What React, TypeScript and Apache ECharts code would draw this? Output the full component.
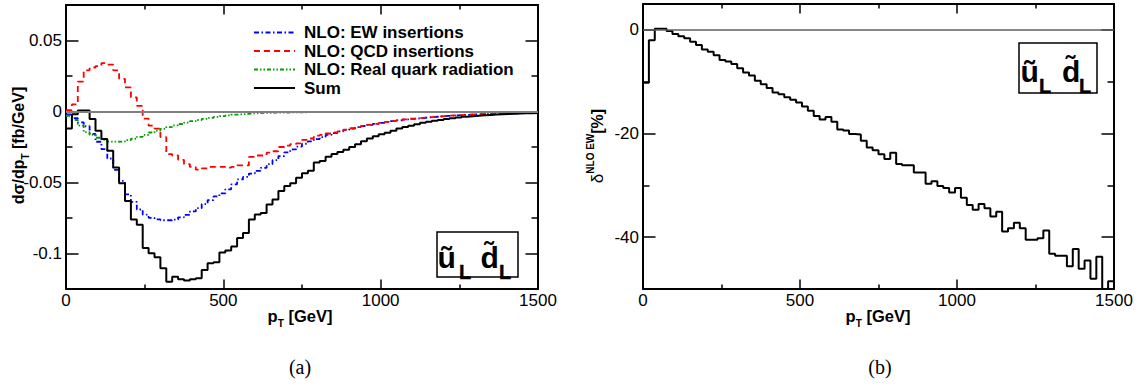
import React, { useEffect, useRef } from "react";
import * as echarts from "echarts";

// ---------- data ----------
const BIN_WIDTH = 18.75; // GeV, 80 bins over 0..1500
const PT_MIN = 0;
const PT_MAX = 1500;
const PT_INTERVAL = 500;

const legendNames = [
  "NLO: EW insertions",
  "NLO: QCD insertions",
  "NLO: Real quark radiation",
  "Sum",
];

const leftYMajor = [-0.1, -0.05, 0, 0.05];
const leftYMinor = [-0.075, -0.025, 0.025];
const rightYMajor = [-40, -20, 0];
const rightYMinor = [-50, -30, -10];

// (a) d sigma / d pT [fb/GeV]
const ewInsertions = [
  -0.0021, -0.0047, -0.0076, -0.0104, -0.0158, -0.0213, -0.0265, -0.0331, -0.0411, -0.0489,
  -0.0584, -0.0636, -0.069, -0.0726, -0.0749, -0.0759, -0.0766, -0.0766, -0.0761, -0.0745,
  -0.0728, -0.0704, -0.0681, -0.0652, -0.0624, -0.0598, -0.0577, -0.0548, -0.0513, -0.0478,
  -0.0461, -0.0437, -0.0418, -0.0397, -0.0371, -0.0343, -0.0314, -0.0288, -0.0267, -0.0248,
  -0.0227, -0.021, -0.0194, -0.018, -0.0165, -0.0152, -0.014, -0.013, -0.012, -0.011,
  -0.0102, -0.0094, -0.0087, -0.008, -0.0074, -0.0068, -0.0062, -0.0057, -0.0052, -0.0048,
  -0.0044, -0.004, -0.0037, -0.0034, -0.0031, -0.0028, -0.0026, -0.0024, -0.0022, -0.002,
  -0.0019, -0.0017, -0.0016, -0.0015, -0.0014, -0.0013, -0.0012, -0.0011, -0.001, -0.001,
];

const qcdInsertions = [
  0.001, 0.005, 0.021, 0.029, 0.031, 0.032, 0.034, 0.033, 0.029, 0.023,
  0.017, 0.01, 0.004, -0.005, -0.01, -0.012, -0.018, -0.03, -0.031, -0.034,
  -0.037, -0.039, -0.041, -0.04, -0.039, -0.039, -0.039, -0.0395, -0.039, -0.038,
  -0.038, -0.032, -0.031, -0.031, -0.029, -0.028, -0.025, -0.024, -0.023, -0.0225,
  -0.02, -0.019, -0.017, -0.0165, -0.0155, -0.0148, -0.014, -0.0128, -0.0118, -0.011,
  -0.0102, -0.0094, -0.0087, -0.008, -0.0073, -0.0067, -0.0061, -0.0056, -0.0051, -0.0047,
  -0.0043, -0.0039, -0.0036, -0.0033, -0.003, -0.0027, -0.0025, -0.0023, -0.0021, -0.0019,
  -0.0018, -0.0016, -0.0015, -0.0014, -0.0013, -0.0012, -0.0011, -0.001, -0.001, -0.0009,
];

const realQuarkRadiation = [
  -0.003, -0.006, -0.01, -0.0145, -0.0165, -0.0185, -0.02, -0.0212, -0.0213, -0.021,
  -0.0202, -0.0192, -0.0178, -0.0165, -0.0148, -0.0135, -0.0122, -0.011, -0.0098, -0.0088,
  -0.0078, -0.0068, -0.006, -0.0052, -0.0045, -0.0038, -0.0032, -0.0027, -0.0022, -0.0019,
  -0.0016, -0.0013, -0.0011, -0.001, -0.0009, -0.0008, -0.0007, -0.0007, -0.0006, -0.0006,
  -0.0005, -0.0005, -0.0005, -0.0005, -0.0005, -0.0005, -0.0005, -0.0005, -0.0005, -0.0005,
  -0.0004, -0.0004, -0.0004, -0.0004, -0.0004, -0.0004, -0.0004, -0.0004, -0.0004, -0.0004,
  -0.0003, -0.0003, -0.0003, -0.0003, -0.0003, -0.0003, -0.0003, -0.0003, -0.0003, -0.0003,
  -0.0003, -0.0003, -0.0003, -0.0003, -0.0003, -0.0003, -0.0003, -0.0003, -0.0003, -0.0003,
];

const sumNLO = [
  -0.012, -0.002, 0.0007, 0.0007, -0.0052, -0.0135, -0.0194, -0.0277, -0.0395, -0.0506,
  -0.0631, -0.0761, -0.0797, -0.0962, -0.0998, -0.1026, -0.1104, -0.1199, -0.1163, -0.1182,
  -0.1191, -0.1182, -0.1175, -0.1116, -0.1069, -0.1061, -0.0993, -0.0979, -0.095, -0.0891,
  -0.0856, -0.0761, -0.0726, -0.0714, -0.0655, -0.0619, -0.056, -0.0525, -0.0506, -0.0466,
  -0.0435, -0.0418, -0.0359, -0.0348, -0.0319, -0.03, -0.0285, -0.027, -0.025, -0.023,
  -0.021, -0.019, -0.0175, -0.016, -0.015, -0.0135, -0.012, -0.011, -0.01, -0.009,
  -0.008, -0.0072, -0.0065, -0.006, -0.0053, -0.0047, -0.0042, -0.0037, -0.0033, -0.003,
  -0.0027, -0.0024, -0.0021, -0.0019, -0.0017, -0.0015, -0.0014, -0.0013, -0.0012, -0.0011,
];

// (b) relative NLO EW correction [%]
const deltaNLOEW = [
  -10.2, -2.0, 0.2, 0.2, -0.2, -0.8, -1.2, -1.6, -2.3, -2.9,
  -3.8, -4.2, -4.9, -5.8, -6.1, -6.6, -7.4, -8.2, -8.8, -9.8,
  -10.5, -11.2, -12.1, -12.4, -13.0, -13.5, -14.0, -14.8, -15.6, -16.6,
  -17.3, -16.8, -17.7, -19.2, -19.4, -20.1, -20.2, -21.4, -22.7, -23.2,
  -24.0, -24.9, -23.7, -25.9, -26.1, -26.1, -27.5, -27.5, -29.7, -29.2,
  -30.1, -30.5, -31.4, -30.5, -32.4, -33.8, -34.7, -33.6, -34.4, -36.0,
  -35.1, -38.9, -38.3, -37.2, -38.3, -40.5, -40.5, -40.2, -38.7, -43.2,
  -43.6, -43.6, -45.6, -42.3, -46.1, -44.5, -48.0, -43.8, -51.0, -48.5,
];

// ---------- helpers ----------
const FONT = "'Liberation Sans', Arial, Helvetica, sans-serif";

function histogram(values: number[]) {
  const pts: number[][] = values.map((v, k) => [k * BIN_WIDTH, v]);
  pts.push([values.length * BIN_WIDTH, values[values.length - 1]]);
  return pts;
}

const frameLine = { color: "#000", width: 2 };
const tickLine = { color: "#000", width: 1.5 };
const plainNumber = (v: number) => String(v);

function makeXAxes(gridIndex: number) {
  const base = {
    type: "value",
    gridIndex,
    min: PT_MIN,
    max: PT_MAX,
    interval: PT_INTERVAL,
    axisLine: { show: true, onZero: false, lineStyle: frameLine },
    axisTick: { show: true, inside: true, length: 9.5, lineStyle: tickLine },
    minorTick: { show: true, splitNumber: 2, length: 4.5, lineStyle: tickLine },
    splitLine: { show: false },
    minorSplitLine: { show: false },
  };
  return [
    {
      ...base,
      position: "bottom",
      axisLabel: {
        show: true,
        margin: 3,
        color: "#000",
        fontSize: 17,
        fontFamily: FONT,
        formatter: plainNumber,
      },
    },
    { ...base, position: "top", axisLabel: { show: false } },
  ];
}

function makeYAxes(gridIndex: number, min: number, max: number, major: number[], minor: number[]) {
  const out: any[] = [];
  for (const position of ["left", "right"]) {
    out.push({
      type: "value",
      gridIndex,
      position,
      min,
      max,
      splitLine: { show: false },
      axisLine: { show: true, onZero: false, lineStyle: frameLine },
      axisTick: { show: true, inside: true, length: 12.5, lineStyle: tickLine, customValues: major },
      axisLabel: {
        show: position === "left",
        customValues: major,
        margin: 4,
        color: "#000",
        fontSize: 17,
        fontFamily: FONT,
        formatter: plainNumber,
      },
    });
    out.push({
      type: "value",
      gridIndex,
      position,
      min,
      max,
      splitLine: { show: false },
      axisLine: { show: false, onZero: false },
      axisTick: { show: true, inside: true, length: 6.5, lineStyle: tickLine, customValues: minor },
      axisLabel: { show: false, customValues: minor },
    });
  }
  return out;
}

function stepSeries(
  name: string,
  values: number[],
  color: string,
  type: any,
  width: number,
  xAxisIndex: number,
  yAxisIndex: number,
  extra: any = {}
) {
  return {
    type: "line",
    name,
    data: histogram(values),
    xAxisIndex,
    yAxisIndex,
    step: "end",
    symbol: "none",
    showSymbol: false,
    silent: true,
    clip: true,
    lineStyle: { color, width, type, cap: "butt" },
    itemStyle: { color },
    ...extra,
  };
}

function zeroLine(color: string, width: number) {
  return {
    silent: true,
    symbol: ["none", "none"],
    label: { show: false },
    lineStyle: { color, width, type: "solid" },
    data: [{ yAxis: 0 }],
  };
}

function text(x: number, y: number, str: string, style: any, extra: any = {}) {
  return {
    type: "text",
    x,
    y,
    silent: true,
    z: 100,
    style: { text: str, fill: "#000", ...style },
    ...extra,
  };
}

const boldRich = (size: number, lh: number) => ({
  fontFamily: FONT,
  fontWeight: "bold",
  fontSize: size,
  lineHeight: lh,
  verticalAlign: "middle",
  fill: "#000",
  color: "#000",
});

function xTitle(cx: number) {
  return text(cx, 316, "{b|p}{s|T}{b| [GeV]}", {
    align: "center",
    verticalAlign: "middle",
    rich: {
      b: boldRich(16.5, 25),
      s: { ...boldRich(10, 10), verticalAlign: "bottom" },
    },
  });
}

function squarkBox(
  bx: number,
  by: number,
  bw: number,
  bh: number,
  ux: number,
  lx1: number,
  dx: number,
  lx2: number,
  base: number
) {
  const bigY = base - 10.4;
  const subY = base + 11 - 6.9;
  const big = {
    fontFamily: FONT,
    fontWeight: "bold",
    fontSize: 30,
    align: "left",
    verticalAlign: "middle",
    fill: "#000000",
  };
  const sub = {
    fontFamily: FONT,
    fontWeight: "bold",
    fontSize: 20,
    align: "left",
    verticalAlign: "middle",
    fill: "#000000",
    stroke: "#000000",
    lineWidth: 0.4,
  };
  return [
    {
      type: "rect",
      silent: true,
      z: 90,
      shape: { x: bx, y: by, width: bw, height: bh },
      style: { fill: "none", stroke: "#000", lineWidth: 1.5 },
    },
    text(ux, bigY, "\u0169", big),
    text(lx1, subY, "L", sub),
    text(dx, bigY, "d\u0303", big),
    text(lx2, subY, "L", sub),
  ];
}

export default function App() {
  const ref = useRef<HTMLDivElement | null>(null);

  useEffect(() => {
    if (!ref.current) return;
    const chart = echarts.init(ref.current, undefined, { renderer: "svg" });

    const option: any = {
      animation: false,
      backgroundColor: "#fff",
      grid: [
        { left: 66, top: 5, width: 472, height: 284, containLabel: false, outerBoundsMode: "none" },
        { left: 643, top: 4, width: 471, height: 285, containLabel: false, outerBoundsMode: "none" },
      ],
      xAxis: [...makeXAxes(0), ...makeXAxes(1)],
      yAxis: [
        ...makeYAxes(0, -0.125, 0.075, leftYMajor, leftYMinor),
        ...makeYAxes(1, -50, 5, rightYMajor, rightYMinor),
      ],
      legend: {
        data: legendNames,
        orient: "vertical",
        left: 253,
        top: 24,
        padding: 0,
        itemGap: 1.5,
        itemWidth: 41,
        itemHeight: 14,
        selectedMode: false,
        itemStyle: { opacity: 0 },
        textStyle: {
          fontFamily: FONT,
          fontWeight: "bold",
          fontSize: 17,
          color: "#000",
          padding: [0, 0, 0, 4],
        },
      },
      series: [
        stepSeries(legendNames[0], ewInsertions, "#0000ff", [5, 2.5, 1.5, 2.5], 1.8, 0, 0, {
          markLine: zeroLine("#808080", 2),
        }),
        stepSeries(legendNames[1], qcdInsertions, "#ff0000", [6, 4], 1.8, 0, 0),
        stepSeries(legendNames[2], realQuarkRadiation, "#00a000", [4, 2, 1.5, 2, 1.5, 2], 1.8, 0, 0),
        stepSeries(legendNames[3], sumNLO, "#000000", "solid", 2, 0, 0),
        stepSeries("delta NLO EW", deltaNLOEW, "#000000", "solid", 2, 2, 4, {
          markLine: zeroLine("#606060", 1.5),
        }),
      ],
      graphic: [
        xTitle(300),
        xTitle(878),
        text(
          18,
          145.5,
          "{b|d\u03c3/dp}{s|T}{b| [fb/GeV]}",
          {
            align: "center",
            verticalAlign: "middle",
            rich: {
              b: boldRich(16, 25),
              s: { ...boldRich(10, 10), verticalAlign: "bottom" },
            },
          },
          { rotation: Math.PI / 2 }
        ),
        text(
          597,
          146,
          "{m|\u03b4}{p|NLO EW}{b|[%]}",
          {
            align: "center",
            verticalAlign: "middle",
            rich: {
              m: { fontFamily: FONT, fontSize: 17, lineHeight: 23, verticalAlign: "middle", fill: "#000" },
              p: { ...boldRich(10, 10), verticalAlign: "top" },
              b: boldRich(16, 23),
            },
          },
          { rotation: Math.PI / 2 }
        ),
        ...squarkBox(437, 232, 81, 45, 437.5, 459, 480.5, 499, 268),
        ...squarkBox(1019, 43, 78, 50, 1020.5, 1039, 1062, 1079, 82),
        text(300, 367, "(a)", {
          fontFamily: "'Liberation Serif', 'DejaVu Serif', serif",
          fontSize: 20,
          align: "center",
          verticalAlign: "middle",
        }),
        text(880, 367, "(b)", {
          fontFamily: "'Liberation Serif', 'DejaVu Serif', serif",
          fontSize: 20,
          align: "center",
          verticalAlign: "middle",
        }),
      ],
    };

    chart.setOption(option);
    return () => {
      chart.dispose();
    };
  }, []);

  return (
    <div
      ref={ref}
      style={{ position: "absolute", left: 0, top: 0, width: 1136, height: 387, background: "#fff" }}
    />
  );
}
